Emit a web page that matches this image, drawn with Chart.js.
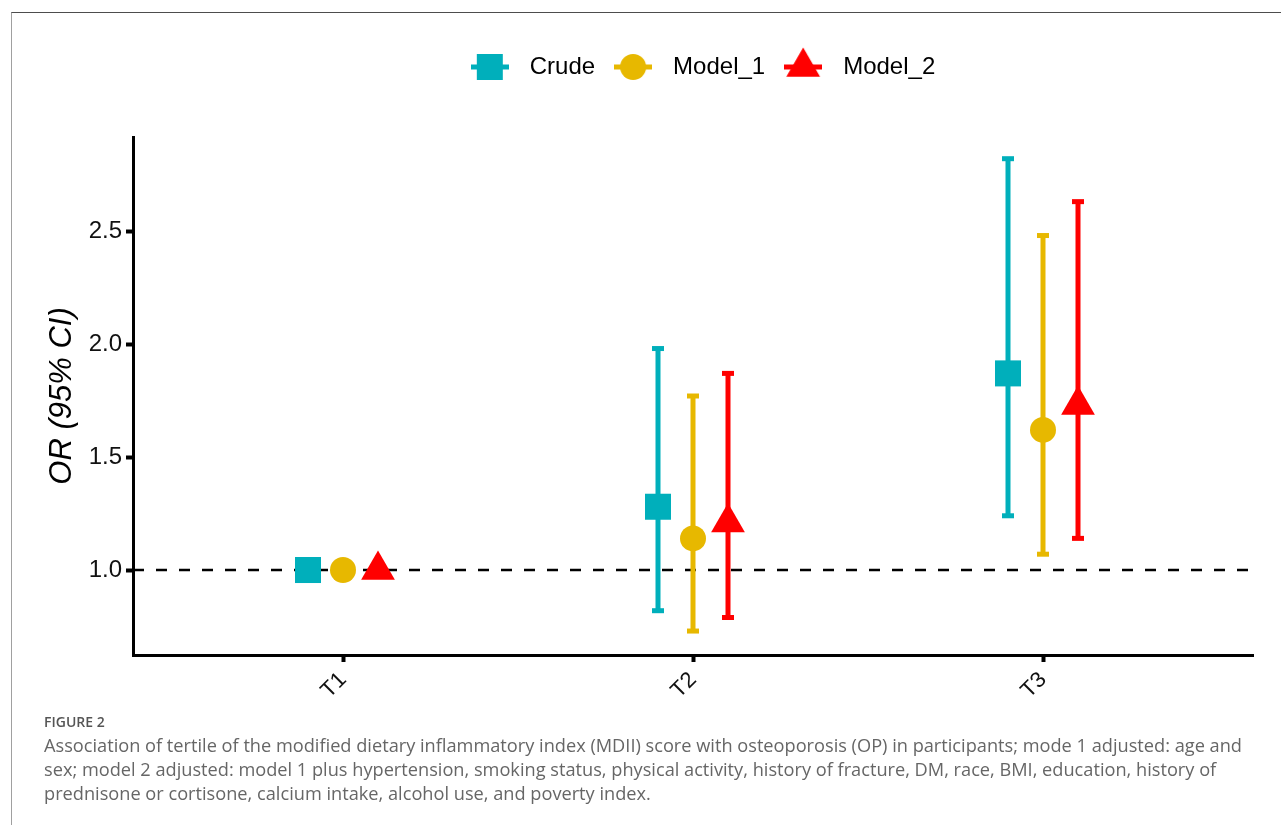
<!DOCTYPE html>
<html>
<head>
<meta charset="utf-8">
<script src="https://cdn.jsdelivr.net/npm/chart.js@4.4.1/dist/chart.umd.min.js"></script>
<style>
  html, body { margin: 0; padding: 0; background: #fff; }
  body { width: 1281px; height: 825px; position: relative; overflow: hidden; }
  #frame { position: absolute; left: 11px; top: 12px; width: 1290px; height: 830px;
           border-top: 1px solid #4d4d4d; border-left: 1px solid #a0a0a0; }
  #wrap { position: absolute; left: 0; top: 0; width: 1281px; height: 720px; }
  #caption { position: absolute; left: 44px; top: 711px; font-family: "Open Sans", sans-serif;
             color: #666; white-space: nowrap; }
  #caption .fig { font-size: 14px; font-weight: 600; color: #555; line-height: 22px; }
  #caption .txt { font-size: 18.2px; line-height: 24px; }
</style>
</head>
<body>
<div id="frame"></div>
<div id="wrap"><canvas id="chart" width="1281" height="720"></canvas></div>
<div id="caption">
  <div class="fig">FIGURE 2</div>
  <div class="txt">Association of tertile of the modified dietary inflammatory index (MDII) score with osteoporosis (OP) in participants; mode 1 adjusted: age and<br>sex; model 2 adjusted: model 1 plus hypertension, smoking status, physical activity, history of fracture, DM, race, BMI, education, history of<br>prednisone or cortisone, calcium intake, alcohol use, and poverty index.</div>
</div>
<script>
// tertiles and odds ratios (95% CI)
const categories = ['T1', 'T2', 'T3'];
const seriesNames = ['Crude', 'Model_1', 'Model_2'];

const crudeOR   = [1.00, 1.28, 1.87];
const crudeLow  = [1.00, 0.82, 1.24];
const crudeHigh = [1.00, 1.98, 2.82];

const model1OR   = [1.00, 1.14, 1.62];
const model1Low  = [1.00, 0.73, 1.07];
const model1High = [1.00, 1.77, 2.48];

const model2OR   = [1.00, 1.21, 1.73];
const model2Low  = [1.00, 0.79, 1.14];
const model2High = [1.00, 1.87, 2.63];

const yTicks = [1.0, 1.5, 2.0, 2.5];
const refValue = 1.0;

const colors = ['#00AFBB', '#E7B800', '#FF0000'];
const shapes = ['rect', 'circle', 'triangle'];
const radii = [18.4, 13, 19.5];
const dodge = [-0.1, 0, 0.1];
const xMin = 0.4, xMax = 3.6;
const fontFamily = '"Liberation Sans", Arial, sans-serif';

const series = [
  { or: crudeOR, low: crudeLow, high: crudeHigh },
  { or: model1OR, low: model1Low, high: model1High },
  { or: model2OR, low: model2Low, high: model2High }
];

// legend key: line through the marker, like ggplot
function makeKey(i) {
  const c = document.createElement('canvas');
  c.width = 38; c.height = 40;
  const ctx = c.getContext('2d');
  ctx.fillStyle = colors[i];
  ctx.fillRect(0, 17.5, 38, 5);
  Chart.helpers.drawPoint(ctx, { pointStyle: shapes[i], radius: radii[i], rotation: 0, borderWidth: 0 }, 19, 20);
  return c;
}
const legendKeys = seriesNames.map((n, i) => makeKey(i));

const pointSets = series.map((s, i) => ({
  label: seriesNames[i],
  type: 'line',
  showLine: false,
  data: s.or.map((v, k) => ({ x: k + 1 + dodge[i], y: v })),
  pointStyle: shapes[i],
  pointRadius: radii[i],
  pointBackgroundColor: colors[i],
  pointBorderWidth: 0,
  order: 0
}));

const barSets = series.map((s, i) => ({
  label: seriesNames[i] + ' CI',
  type: 'line',
  data: categories.flatMap((c, k) => [
    { x: k + 1 + dodge[i], y: s.low[k] },
    { x: k + 1 + dodge[i], y: s.high[k] },
    { x: k + 1 + dodge[i], y: null }
  ]),
  spanGaps: false,
  borderColor: colors[i],
  borderWidth: 5,
  pointStyle: 'line',
  pointRadius: 6,
  pointBorderColor: colors[i],
  pointBorderWidth: 5,
  order: 1
}));

const refSet = {
  label: 'ref',
  type: 'line',
  data: [{ x: xMin, y: refValue }, { x: xMax, y: refValue }],
  borderColor: '#000',
  borderWidth: 2.5,
  borderDash: [11, 12],
  pointRadius: 0,
  order: 2
};

const legendShift = {
  id: 'legendShift',
  beforeInit(chart) {
    const fit = chart.legend.fit;
    chart.legend.fit = function () {
      fit.call(this);
      this.height = 92;
    };
  },
  afterLayout(chart) {
    chart.legend.left += 72;
    chart.legend.right += 72;
  }
};

new Chart(document.getElementById('chart'), {
  type: 'line',
  data: { datasets: [...pointSets, ...barSets, refSet] },
  plugins: [legendShift],
  options: {
    responsive: false,
    animation: false,
    events: [],
    layout: { padding: { top: 45, right: 28, left: 0, bottom: 0 } },
    plugins: {
      tooltip: { enabled: false },
      legend: {
        position: 'top',
        labels: {
          usePointStyle: true,
          pointStyleWidth: 56,
          padding: 10,
          color: '#000',
          font: { family: fontFamily, size: 24 },
          generateLabels: () => seriesNames.map((name, i) => ({
            text: name,
            pointStyle: legendKeys[i],
            fillStyle: colors[i],
            strokeStyle: colors[i],
            lineWidth: 0,
            hidden: false,
            datasetIndex: i,
            fontColor: '#000'
          }))
        }
      }
    },
    scales: {
      x: {
        type: 'linear',
        min: xMin,
        max: xMax,
        afterFit: (scale) => { scale.height = 65; },
        afterBuildTicks: (scale) => { scale.ticks = categories.map((c, k) => ({ value: k + 1 })); },
        ticks: {
          callback: (v, idx) => categories[idx],
          minRotation: 45,
          maxRotation: 45,
          padding: 5,
          color: '#111',
          font: { family: fontFamily, size: 22 }
        },
        grid: { drawOnChartArea: false, drawTicks: true, tickLength: 7, tickWidth: 4, tickColor: '#000' },
        border: { display: true, color: '#000', width: 3 }
      },
      y: {
        min: 0.624,
        max: 2.916,
        afterFit: (scale) => { scale.width = 133; },
        afterBuildTicks: (scale) => { scale.ticks = yTicks.map(v => ({ value: v })); },
        ticks: {
          callback: (v) => v.toFixed(1),
          padding: 4,
          color: '#111',
          font: { family: fontFamily, size: 24 }
        },
        grid: { drawOnChartArea: false, drawTicks: true, tickLength: 7, tickWidth: 4, tickColor: '#000' },
        border: { display: true, color: '#000', width: 3 },
        title: {
          display: true,
          text: 'OR (95% CI)',
          color: '#000',
          padding: { top: 44, bottom: 0 },
          font: { family: fontFamily, size: 31, style: 'italic' }
        }
      }
    }
  }
});
</script>
</body>
</html>
